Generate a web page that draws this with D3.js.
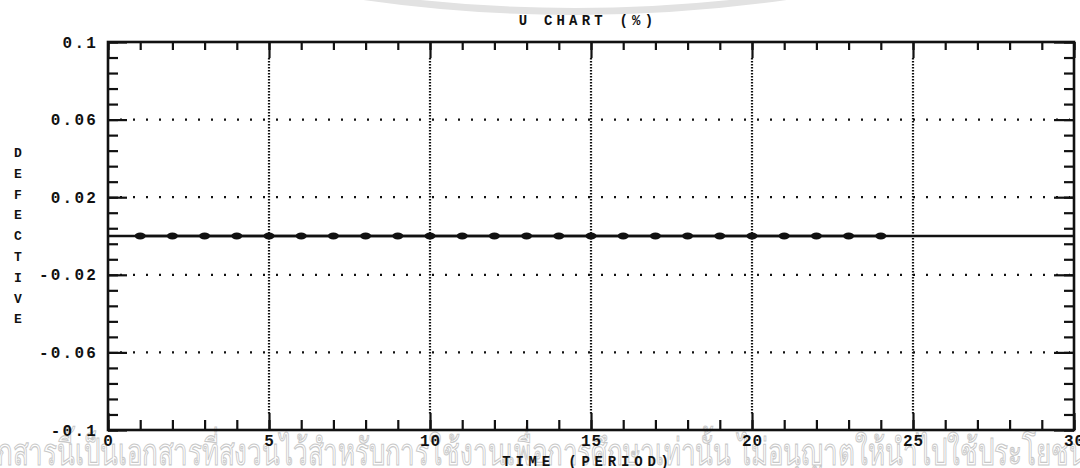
<!DOCTYPE html>
<html>
<head>
<meta charset="utf-8">
<script src="https://cdn.jsdelivr.net/npm/d3@7"></script>
<style>
  body { margin: 0; background: #fff; }
  text { font-family: "Liberation Mono", "DejaVu Sans Mono", monospace; font-weight: bold; fill: #111; }
</style>
</head>
<body>
<div id="chart"></div>
<script>
// sample periods and fraction defective
const periods = [1, 2, 3, 4, 5, 6, 7, 8, 9, 10, 11, 12, 13, 14, 15, 16, 17, 18, 19, 20, 21, 22, 23, 24];
const defective = [0, 0, 0, 0, 0, 0, 0, 0, 0, 0, 0, 0, 0, 0, 0, 0, 0, 0, 0, 0, 0, 0, 0, 0];
const centerLine = [0, 0];
const xTicks = [0, 5, 10, 15, 20, 25, 30];
const yTicks = [-0.1, -0.06, -0.02, 0.02, 0.06, 0.1];
const yTickLabels = ["-0.1", "-0.06", "-0.02", "0.02", "0.06", "0.1"];
const yTitle = "DEFECTIVE";
const wmHidden = "เอ";
const wmVisible = "กสารนี้เป็นเอกสารที่สงวนไว้สำหรับการใช้งานเพื่อการศึกษาเท่านั้น ไม่อนุญาตให้นำไปใช้ประโยชน";
const wmTail = "์";

window.onload = init;

function init()
{
    const width = 1080;
    const height = 468;
    const margin = {left: 108, right: 6, top: 42, bottom: 38};

    const svg = d3.select('#chart').append('svg').attr('width', width).attr('height', height);

    // faint watermark arc at top (bottom edge of a big circle)
    svg.append('path')
        .attr('d', d3.arc()({innerRadius: 1493, outerRadius: 1500, startAngle: Math.PI - 0.2, endAngle: Math.PI + 0.2}))
        .attr('transform', 'translate(575,-1485)')
        .attr('fill', '#e2e2e2');

    // watermark line at bottom, sized so the visible part fills the width
    const wmFont = '"Noto Sans", "DejaVu Sans", sans-serif';
    function measure(str, size)
    {
        const t = svg.append('text').style('font-family', wmFont).style('font-weight', 'normal')
            .style('font-size', size + 'px').text(str);
        const w = t.node().getComputedTextLength();
        t.remove();
        return w;
    }
    const wmSize = 36 * 1090 / measure(wmVisible, 36);
    svg.append('text')
        .attr('transform', 'translate(0,465) scale(1,1.42)')
        .attr('x', -measure(wmHidden, wmSize) - 2).attr('y', 0)
        .style('font-family', wmFont)
        .style('font-weight', 'normal')
        .style('font-size', wmSize + 'px')
        .style('fill', 'none')
        .style('stroke', '#c8c8c8')
        .style('stroke-width', 0.8)
        .text(wmHidden + wmVisible + wmTail);

    const x = d3.scaleLinear().domain([0, 30]).range([margin.left, width - margin.right]);
    const y = d3.scaleLinear().domain([-0.1, 0.1]).range([height - margin.bottom, margin.top]);

    const minorY = d3.range(0, 26).map(i => -0.1 + i * 0.008);
    const minorX = d3.range(0, 31);

    const g = svg.append('g');

    // dotted grid
    g.selectAll('.hgrid').data(yTicks.filter(v => Math.abs(v) < 0.09)).enter().append('line')
        .attr('x1', x(0) + 12).attr('x2', x(30) - 4)
        .attr('y1', d => y(d)).attr('y2', d => y(d))
        .attr('stroke', '#111').attr('stroke-width', 2.3)
        .attr('stroke-dasharray', '2 11');
    g.selectAll('.vgrid').data(xTicks.filter(v => v > 0 && v < 30)).enter().append('line')
        .attr('x1', d => x(d)).attr('x2', d => x(d))
        .attr('y1', y(0.1) + 16).attr('y2', y(-0.1) - 16)
        .attr('stroke', '#111').attr('stroke-width', 2.2)
        .attr('stroke-dasharray', '1.6 1.4');

    // ticks, all pointing inward
    function tickAxis(axis, transform)
    {
        const a = g.append('g').attr('transform', transform).call(axis);
        a.select('.domain').remove();
        a.selectAll('line').attr('stroke', '#111').attr('stroke-width', 2.2);
        return a;
    }

    tickAxis(d3.axisLeft(y).tickValues(minorY).tickSize(-10).tickFormat(''), `translate(${x(0)},0)`);
    tickAxis(d3.axisRight(y).tickValues(minorY).tickSize(-10).tickFormat(''), `translate(${x(30)},0)`);
    tickAxis(d3.axisBottom(x).tickValues(minorX).tickSize(-10).tickFormat(''), `translate(0,${y(-0.1)})`);
    tickAxis(d3.axisTop(x).tickValues(minorX).tickSize(-8).tickFormat(''), `translate(0,${y(0.1)})`);
    tickAxis(d3.axisBottom(x).tickValues(xTicks).tickSize(-17).tickFormat(''), `translate(0,${y(-0.1)})`);
    tickAxis(d3.axisTop(x).tickValues(xTicks).tickSize(-16).tickFormat(''), `translate(0,${y(0.1)})`);
    tickAxis(d3.axisRight(y).tickValues(yTicks).tickSize(-20).tickFormat(''), `translate(${x(30)},0)`);

    const left = tickAxis(d3.axisLeft(y).tickValues(yTicks).tickSize(-19).tickPadding(10)
        .tickFormat((d, i) => yTickLabels[i]), `translate(${x(0)},0)`);
    left.selectAll('text')
        .style('font-size', '16px').style('letter-spacing', '2.2px')
        .style('font-family', '"Liberation Mono", monospace').style('font-weight', 'bold')
        .attr('fill', '#111');

    const bottom = tickAxis(d3.axisBottom(x).tickValues(xTicks).tickSize(0).tickPadding(5),
        `translate(0,${y(-0.1)})`);
    bottom.selectAll('text')
        .style('font-size', '16px').style('letter-spacing', '1px')
        .style('font-family', '"Liberation Mono", monospace').style('font-weight', 'bold')
        .attr('fill', '#111');

    // frame
    g.append('rect')
        .attr('x', x(0)).attr('y', y(0.1))
        .attr('width', x(30) - x(0)).attr('height', y(-0.1) - y(0.1))
        .attr('fill', 'none').attr('stroke', '#111').attr('stroke-width', 2.6);

    // center line
    g.append('path')
        .datum(centerLine)
        .attr('d', d3.line().x((d, i) => x(i * 30)).y(d => y(d)))
        .attr('stroke', '#111').attr('stroke-width', 2.6).attr('fill', 'none');

    // data line and markers
    const pts = periods.map((p, i) => [p, defective[i]]);
    g.append('path')
        .datum(pts)
        .attr('d', d3.line().x(d => x(d[0])).y(d => y(d[1])))
        .attr('stroke', '#111').attr('stroke-width', 2.6).attr('fill', 'none');
    g.selectAll('.pt').data(pts).enter().append('ellipse')
        .attr('cx', d => x(d[0])).attr('cy', d => y(d[1]))
        .attr('rx', 5.5).attr('ry', 3.4)
        .attr('fill', '#111');

    // titles
    svg.append('text')
        .attr('x', 588).attr('y', 25).attr('text-anchor', 'middle')
        .style('font-size', '14px').style('letter-spacing', '4.2px')
        .text('U CHART  (%)');

    svg.append('text')
        .attr('x', 588).attr('y', 466).attr('text-anchor', 'middle')
        .style('font-size', '14px').style('letter-spacing', '4.8px')
        .text('TIME (PERIOD)');

    svg.selectAll('.ylet').data(yTitle.split('')).enter().append('text')
        .attr('x', 18).attr('y', (d, i) => 157 + i * 20.8)
        .attr('text-anchor', 'middle')
        .style('font-size', '13px')
        .text(d => d);
}
</script>
</body>
</html>
